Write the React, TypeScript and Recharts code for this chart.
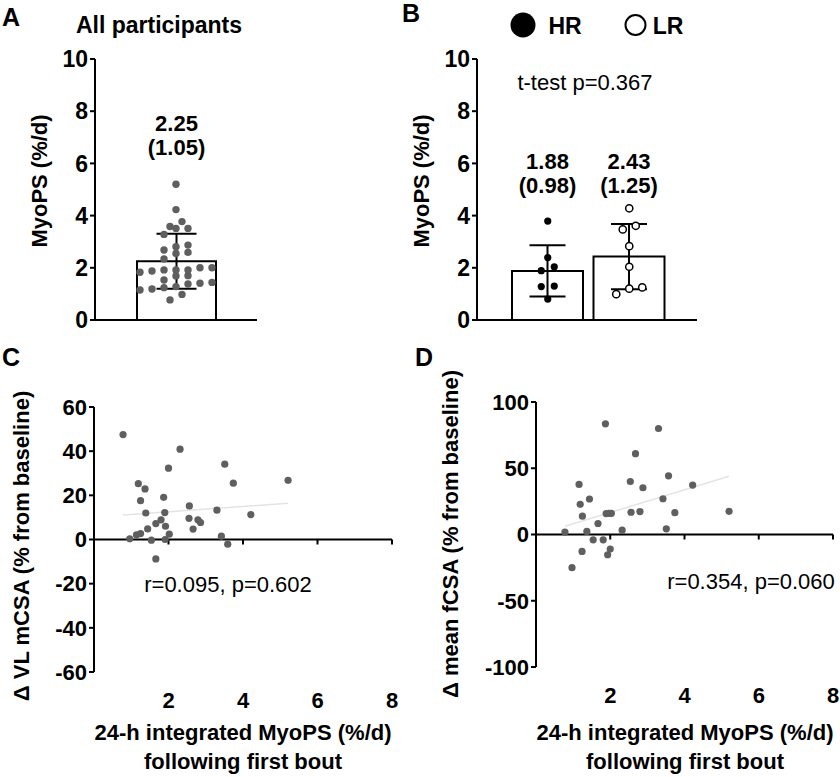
import React from 'react'
import {
  ComposedChart,
  ScatterChart,
  Bar,
  Scatter,
  XAxis,
  YAxis,
  ErrorBar,
  LabelList,
  ReferenceLine,
} from 'recharts'

// panel A: all participants
const allGroup = ['All']
const allMean = [2.25]
const allSd = [1.05]
const allMyoPS = [
  5.2, 4.23, 3.77, 3.58, 3.51, 3.51, 3.28, 2.87, 2.81, 2.68, 2.59, 2.55, 2.34, 2.0, 2.0, 1.92,
  1.92, 1.92, 1.88, 1.83, 1.7, 1.69, 1.53, 1.44, 1.41, 1.38, 1.28, 1.24, 1.19, 1.15, 0.98, 0.77,
]

// panel B: high / low responders
const groups = ['HR', 'LR']
const groupMean = [1.88, 2.43]
const groupSd = [0.98, 1.25]
const hrMyoPS = [3.79, 2.39, 2.04, 1.89, 1.3, 1.28, 0.8]
const lrMyoPS = [4.28, 3.61, 3.47, 2.83, 2.04, 1.25, 1.2, 0.99]
const tTestText = 't-test p=0.367'

const myoTicks = [0, 2, 4, 6, 8, 10]
const xTicks = [2, 4, 6, 8]
const xMax = 8

// panel C: VL mCSA
const cMyoPS = [
  0.78, 2.31, 2.0, 3.51, 1.19, 1.37, 3.74, 5.21, 1.25, 1.87, 1.39, 1.9, 2.56, 3.3, 4.21, 2.55,
  2.79, 2.86, 1.8, 1.66, 1.92, 1.44, 2.66, 1.14, 1.25, 2.02, 0.96, 1.54, 1.91, 3.42, 3.59, 1.66,
]
const cVlChange = [
  47.5, 40.9, 32.3, 34.1, 25.3, 22.9, 25.5, 26.8, 17.6, 19.1, 12.0, 12.2, 15.2, 13.3, 11.3, 9.6,
  8.9, 7.7, 8.9, 7.2, 6.0, 4.8, 4.7, 2.1, 2.7, 2.4, 0.3, -0.3, 0.0, 1.5, -2.1, -8.8,
]
const cTicks = [-60, -40, -20, 0, 20, 40, 60]
const cStats = 'r=0.095, p=0.602'

// panel D: mean fCSA
const dMyoPS = [
  1.87, 3.3, 2.68, 3.57, 2.54, 2.88, 4.22, 1.16, 1.19, 1.44, 3.42, 1.25, 1.67, 1.89, 1.97, 2.03,
  2.56, 2.8, 3.74, 5.2, 0.78, 1.37, 2.32, 3.51, 1.54, 1.81, 2.0, 1.93, 1.24, 0.97,
]
const dFcsaChange = [
  83.5, 80.0, 61.0, 44.3, 40.0, 35.3, 37.3, 37.8, 22.8, 26.8, 27.0, 13.8, 8.3, 15.8, 16.0, 16.0,
  16.8, 17.3, 16.5, 17.5, 1.8, 2.3, 3.3, 4.3, -4.0, -4.0, -11.0, -15.3, -12.8, -25.0,
]
const dTicks = [-100, -50, 0, 50, 100]
const dStats = 'r=0.354, p=0.060'

const FONT = '"Liberation Sans", Arial, Helvetica, sans-serif'
const DOT = '#5f5f5f'

// dots grouped in rows, spread sideways like a scatter dot plot
function swarm(group: string, values: number[], rowSpan: number, step: number) {
  const sorted = [...values].sort((a, b) => a - b)
  const rows: number[][] = []
  sorted.forEach((v) => {
    const row = rows[rows.length - 1]
    if (row && v - row[0] < rowSpan) row.push(v)
    else rows.push([v])
  })
  return rows.flatMap((row) =>
    row.map((v, i) => ({ group, value: v, dx: (i - (row.length - 1) / 2) * step }))
  )
}

function fitLine(xs: number[], ys: number[]) {
  const n = xs.length
  const mx = xs.reduce((s, v) => s + v, 0) / n
  const my = ys.reduce((s, v) => s + v, 0) / n
  let sxy = 0
  let sxx = 0
  xs.forEach((x, i) => {
    sxy += (x - mx) * (ys[i] - my)
    sxx += (x - mx) * (x - mx)
  })
  const b = sxy / sxx
  const a = my - b * mx
  const lo = Math.min(...xs)
  const hi = Math.max(...xs)
  return [
    { x: lo, y: a + b * lo },
    { x: hi, y: a + b * hi },
  ]
}

const Txt = ({
  x,
  y,
  size = 22,
  bold = false,
  children,
}: {
  x: number
  y: number
  size?: number
  bold?: boolean
  children: React.ReactNode
}) => (
  <div
    style={{
      position: 'absolute',
      left: x,
      top: y,
      transform: 'translate(-50%, -50%)',
      fontSize: size,
      fontWeight: bold ? 'bold' : 'normal',
      lineHeight: 1,
      whiteSpace: 'nowrap',
    }}
  >
    {children}
  </div>
)

const VTxt = ({ x, y, children }: { x: number; y: number; children: React.ReactNode }) => (
  <div
    style={{
      position: 'absolute',
      left: x,
      top: y,
      transform: 'translate(-50%, -50%) rotate(-90deg)',
      fontSize: 22,
      fontWeight: 'bold',
      lineHeight: 1,
      whiteSpace: 'nowrap',
    }}
  >
    {children}
  </div>
)

const SwarmDot = (props: any) => (
  <circle cx={props.cx + props.payload.dx} cy={props.cy} r={3.7} fill={DOT} />
)
const FilledDot = (props: any) => (
  <circle cx={props.cx + props.payload.dx} cy={props.cy} r={3.6} fill="#000" />
)
const OpenDot = (props: any) => (
  <circle
    cx={props.cx + props.payload.dx}
    cy={props.cy}
    r={3.6}
    fill="#fff"
    stroke="#000"
    strokeWidth={1.5}
  />
)
const PlainDot = (props: any) => <circle cx={props.cx} cy={props.cy} r={3.6} fill={DOT} />
const NoDot = () => <g />

// x axis drawn through y = 0 with ticks pointing down
const ZeroAxis = (props: any) => {
  const { x1, y1, x2 } = props
  const span = x2 - x1
  return (
    <g>
      <line x1={x1} y1={y1} x2={x2} y2={y1} stroke="#000" strokeWidth={2} />
      {xTicks.map((t) => (
        <line
          key={t}
          x1={x1 + (span * t) / xMax}
          x2={x1 + (span * t) / xMax}
          y1={y1}
          y2={y1 + 5}
          stroke="#000"
          strokeWidth={2}
        />
      ))}
    </g>
  )
}

const axisLine = { stroke: '#000', strokeWidth: 2 }
const tickFont = (size: number) => ({ fontSize: size, fontWeight: 'bold', fill: '#000' })

const meanLabel = (labelY: number, sds: number[]) => (p: any) => {
  const cx = p.x + p.width / 2
  const sd = sds[p.index]
  return (
    <text x={cx} y={labelY} textAnchor="middle" fontSize={22} fontWeight="bold" fill="#000">
      <tspan x={cx}>{Number(p.value).toFixed(2)}</tspan>
      <tspan x={cx} dy={24}>
        ({sd.toFixed(2)})
      </tspan>
    </text>
  )
}

export default function App() {
  const aBars = allGroup.map((g, i) => ({ group: g, mean: allMean[i], sd: allSd[i] }))
  const aDots = swarm('All', allMyoPS, 0.3, 12)

  const bBars = groups.map((g, i) => ({ group: g, mean: groupMean[i], sd: groupSd[i] }))
  const hrDots = swarm('HR', hrMyoPS, 0.35, 13)
  const lrDots = swarm('LR', lrMyoPS, 0.35, 13)

  const cPoints = cMyoPS.map((x, i) => ({ x, y: cVlChange[i] }))
  const cFit = fitLine(cMyoPS, cVlChange)
  const dPoints = dMyoPS.map((x, i) => ({ x, y: dFcsaChange[i] }))
  const dFit = fitLine(dMyoPS, dFcsaChange)

  return (
    <div
      style={{
        position: 'absolute',
        left: 0,
        top: 0,
        width: 840,
        height: 777,
        background: '#fff',
        fontFamily: FONT,
        color: '#000',
        overflow: 'hidden',
      }}
    >
      {/* A */}
      <div style={{ position: 'absolute', left: 0, top: 0 }}>
        <ComposedChart
          width={270}
          height={340}
          data={aBars}
          margin={{ top: 59, right: 13, bottom: 10, left: 0 }}
        >
          <XAxis
            dataKey="group"
            type="category"
            allowDuplicatedCategory={false}
            height={10}
            tick={false}
            tickLine={false}
            axisLine={axisLine}
          />
          <YAxis
            type="number"
            domain={[0, 10]}
            ticks={myoTicks}
            interval={0}
            width={95}
            tickSize={5}
            tickLine={axisLine}
            axisLine={axisLine}
            tick={tickFont(23)}
          />
          <Bar
            dataKey="mean"
            barSize={79}
            fill="#fff"
            stroke="#000"
            strokeWidth={2}
            isAnimationActive={false}
          >
            <ErrorBar dataKey="sd" width={20} stroke="#000" strokeWidth={2} />
            <LabelList dataKey="mean" content={meanLabel(131, allSd)} />
          </Bar>
          <Scatter data={aDots} dataKey="value" shape={SwarmDot} isAnimationActive={false} />
        </ComposedChart>
      </div>
      <Txt x={11} y={17} size={25} bold>
        A
      </Txt>
      <Txt x={159} y={25} size={23} bold>
        All participants
      </Txt>
      <VTxt x={40} y={181}>MyoPS (%/d)</VTxt>

      {/* B */}
      <div style={{ position: 'absolute', left: 400, top: 0 }}>
        <ComposedChart
          width={310}
          height={340}
          data={bBars}
          margin={{ top: 59, right: 13, bottom: 10, left: 0 }}
        >
          <XAxis
            dataKey="group"
            type="category"
            allowDuplicatedCategory={false}
            height={10}
            padding={{ left: 30, right: 27 }}
            tick={false}
            tickLine={false}
            axisLine={axisLine}
          />
          <YAxis
            type="number"
            domain={[0, 10]}
            ticks={myoTicks}
            interval={0}
            width={77}
            tickSize={5}
            tickLine={axisLine}
            axisLine={axisLine}
            tick={tickFont(23)}
          />
          <Bar
            dataKey="mean"
            barSize={71}
            fill="#fff"
            stroke="#000"
            strokeWidth={2}
            isAnimationActive={false}
          >
            <ErrorBar dataKey="sd" width={18} stroke="#000" strokeWidth={2} />
            <LabelList dataKey="mean" content={meanLabel(169, groupSd)} />
          </Bar>
          <Scatter data={hrDots} dataKey="value" shape={FilledDot} isAnimationActive={false} />
          <Scatter data={lrDots} dataKey="value" shape={OpenDot} isAnimationActive={false} />
        </ComposedChart>
      </div>
      <Txt x={411} y={13} size={25} bold>
        B
      </Txt>
      <svg style={{ position: 'absolute', left: 500, top: 0 }} width={160} height={50}>
        <circle cx={23} cy={25} r={12.5} fill="#000" />
        <circle cx={135.5} cy={25} r={10} fill="#fff" stroke="#000" strokeWidth={2} />
      </svg>
      <Txt x={565} y={26} size={23} bold>
        {groups[0]}
      </Txt>
      <Txt x={668} y={26} size={23} bold>
        {groups[1]}
      </Txt>
      <Txt x={585} y={83}>
        {tTestText}
      </Txt>
      <VTxt x={422} y={181}>MyoPS (%/d)</VTxt>

      {/* C */}
      <div style={{ position: 'absolute', left: 0, top: 330 }}>
        <ScatterChart width={410} height={447} margin={{ top: 77, right: 18, bottom: 0, left: 0 }}>
          <XAxis
            dataKey="x"
            type="number"
            domain={[0, xMax]}
            ticks={xTicks}
            interval={0}
            height={105}
            axisLine={false}
            tickLine={false}
            tickSize={10}
            tickMargin={10}
            tick={tickFont(22)}
          />
          <YAxis
            dataKey="y"
            type="number"
            domain={[-60, 60]}
            ticks={cTicks}
            interval={0}
            width={94}
            tickSize={5}
            tickLine={axisLine}
            axisLine={axisLine}
            tick={tickFont(22)}
          />
          <ReferenceLine y={0} shape={ZeroAxis} />
          <Scatter
            data={cFit}
            line={{ stroke: '#e4e4e4', strokeWidth: 1.5 }}
            shape={NoDot}
            isAnimationActive={false}
          />
          <Scatter data={cPoints} shape={PlainDot} isAnimationActive={false} />
        </ScatterChart>
      </div>
      <Txt x={11} y={357} size={25} bold>
        C
      </Txt>
      <VTxt x={22} y={546}>Δ VL mCSA (% from baseline)</VTxt>
      <Txt x={228} y={585}>
        {cStats}
      </Txt>
      <Txt x={243} y={733} bold>
        24-h integrated MyoPS (%/d)
      </Txt>
      <Txt x={243} y={762} bold>
        following first bout
      </Txt>

      {/* D */}
      <div style={{ position: 'absolute', left: 430, top: 330 }}>
        <ScatterChart width={410} height={447} margin={{ top: 72, right: 7, bottom: 0, left: 0 }}>
          <XAxis
            dataKey="x"
            type="number"
            domain={[0, xMax]}
            ticks={xTicks}
            interval={0}
            height={110}
            axisLine={false}
            tickLine={false}
            tickSize={10}
            tickMargin={10}
            tick={tickFont(22)}
          />
          <YAxis
            dataKey="y"
            type="number"
            domain={[-100, 100]}
            ticks={dTicks}
            interval={0}
            width={106}
            tickSize={5}
            tickLine={axisLine}
            axisLine={axisLine}
            tick={tickFont(22)}
          />
          <ReferenceLine y={0} shape={ZeroAxis} />
          <Scatter
            data={dFit}
            line={{ stroke: '#e4e4e4', strokeWidth: 1.5 }}
            shape={NoDot}
            isAnimationActive={false}
          />
          <Scatter data={dPoints} shape={PlainDot} isAnimationActive={false} />
        </ScatterChart>
      </div>
      <Txt x={424} y={357} size={25} bold>
        D
      </Txt>
      <VTxt x={451} y={534}>Δ mean fCSA (% from baseline)</VTxt>
      <Txt x={751} y={582}>
        {dStats}
      </Txt>
      <Txt x={685} y={733} bold>
        24-h integrated MyoPS (%/d)
      </Txt>
      <Txt x={685} y={762} bold>
        following first bout
      </Txt>
    </div>
  )
}
